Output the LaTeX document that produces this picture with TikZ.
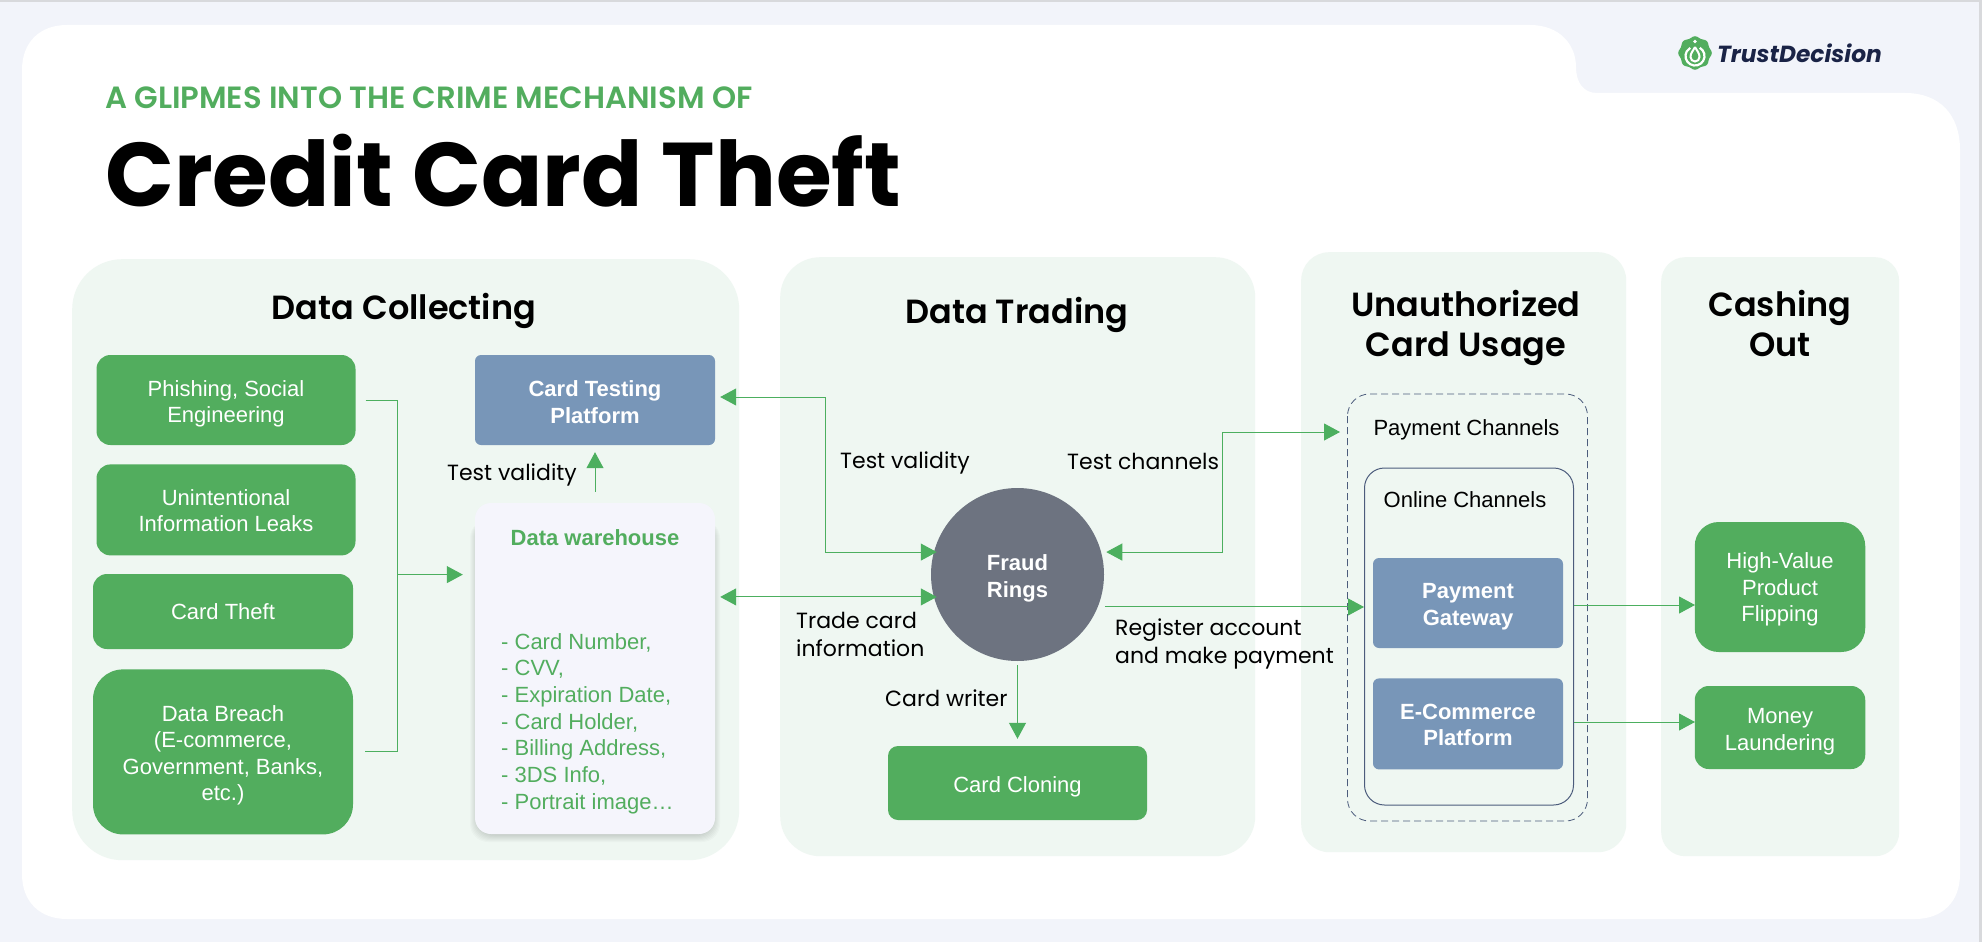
\documentclass[tikz,border=0pt]{standalone}
\usepackage{xcolor}
\usepackage{fontspec}
\usepackage{tikz}
\usetikzlibrary{shapes,arrows.meta,positioning}
\setmainfont{Liberation Sans}
\newfontfamily\labelfont{Poppins}
\newfontfamily\headfont{Poppins SemiBold}
\newfontfamily\titlefont{Poppins}[UprightFont=*-Bold,ItalicFont=*-Bold Italic]
\newcommand{\lowerline}[1][23pt]{\rule{0pt}{#1}}
\definecolor{pagebg}{HTML}{F2F4FA}
\definecolor{edgegray}{HTML}{D8D9DC}
\definecolor{panelbg}{HTML}{EFF7F2}
\definecolor{tdgreen}{HTML}{52AD5E}
\definecolor{wiregreen}{HTML}{4CAF5F}
\definecolor{tdblue}{HTML}{7896B8}
\definecolor{tdgray}{HTML}{6D7380}
\definecolor{tdnavy}{HTML}{1A2346}
\definecolor{framenavy}{HTML}{4C5C7C}
\definecolor{storebg}{HTML}{F5F5FC}

\begin{document}
\begin{tikzpicture}[
    x=1pt, y=-1pt,
    panel/.style={rectangle, fill=panelbg, anchor=north west},
    heading/.style={font=\headfont\fontsize{33.5}{40}\selectfont, align=center, text=black},
    greenbox/.style={rectangle, fill=tdgreen, text=white, align=center, inner sep=0pt, font=\fontsize{22}{26.5}\selectfont},
    bluebox/.style={rectangle, fill=tdblue, text=white, align=center, inner sep=0pt, rounded corners=6pt, font=\bfseries\fontsize{22}{26.5}\selectfont},
    flowlabel/.style={font=\labelfont\fontsize{22}{28}\selectfont, align=left, text=black, inner sep=0pt},
    channellabel/.style={font=\fontsize{22}{26}\selectfont, text=black, inner sep=0pt},
    wire/.style={draw=wiregreen, line width=1pt},
    arrow/.style={wire, -{Triangle[length=16pt,width=17pt]}},
    bothways/.style={wire, {Triangle[length=16pt,width=17pt]}-{Triangle[length=16pt,width=17pt]}}
]
    \useasboundingbox (0,0) rectangle (1982,942);
    % page and white sheet
    \fill[pagebg] (0,0) rectangle (1982,942);
    \fill[edgegray] (0,0) rectangle (1982,2);
    \fill[edgegray] (1979,0) rectangle (1982,942);
    \fill[white] (67,25) -- (1530,25) .. controls (1560,25) and (1576,45) .. (1576,67)
        .. controls (1576,82) and (1583,93) .. (1597,93) -- (1905,93)
        .. controls (1940,93) and (1960,115) .. (1960,150) -- (1960,874)
        .. controls (1960,902) and (1942,919) .. (1915,919) -- (67,919)
        .. controls (40,919) and (22,902) .. (22,874) -- (22,70)
        .. controls (22,42) and (40,25) .. (67,25) -- cycle;

    % logo
    \fill[tdgreen] plot[smooth cycle, domain=0:352.5, samples=48]
        ({1695+(16+0.8*cos(8*\x))*cos(\x)},{53+(16+0.8*cos(8*\x))*sin(\x)});
    \draw[white, line width=2.2pt] (1699.75,47.8) arc[start angle=-60, end angle=240, radius=9.5];
    \draw[white, line width=2pt] (1695,47) .. controls (1697,51) and (1699.5,53) .. (1699.5,57)
        arc[start angle=0, end angle=180, radius=4.5] .. controls (1690.5,53) and (1693,51) .. (1695,47);
    \fill[white] (1695,41.5) circle (1.8);
    \node[font=\titlefont\itshape\fontsize{23.3}{28}\selectfont, text=tdnavy, inner sep=0pt, anchor=west] (brand) at (1717,53) {TrustDecision};

    % title
    \node[font=\headfont\fontsize{30.7}{36}\selectfont, text=tdgreen, inner sep=0pt, anchor=west] (kicker) at (105,98) {A GLIPMES INTO THE CRIME MECHANISM OF};
    \node[font=\titlefont\fontsize{90.4}{100}\selectfont, text=black, inner sep=0pt, anchor=west] (title) at (105,171) {Credit Card Theft};

    % panels
    \node[panel, rounded corners=50pt, minimum width=667pt, minimum height=601pt] (collect) at (72,259) {};
    \node[panel, rounded corners=40pt, minimum width=475pt, minimum height=599pt] (trade) at (780,257) {};
    \node[panel, rounded corners=28pt, minimum width=325pt, minimum height=600pt] (usage) at (1301,252) {};
    \node[panel, rounded corners=24pt, minimum width=238pt, minimum height=599pt] (cash) at (1661,257) {};

    \node[heading] (collecthead) at (404,311) {Data Collecting};
    \node[heading] (tradehead) at (1017,315) {Data Trading};
    \node[heading] (usagehead) at (1466,328) {Unauthorized\\Card Usage};
    \node[heading] (cashhead) at (1780,323) {Cashing\\Out};

    % data collecting
    \node[greenbox, rounded corners=14pt, minimum width=259pt, minimum height=90pt] (phish) at (226,400) {\lowerline[24pt]Phishing, Social\\Engineering};
    \node[greenbox, rounded corners=14pt, minimum width=259pt, minimum height=91pt, below=19pt of phish] (leaks) {\lowerline[17pt]Unintentional\\Information Leaks};
    \node[greenbox, rounded corners=14pt, minimum width=260pt, minimum height=75pt] (theft) at (223,611.5) {Card Theft};
    \node[greenbox, rounded corners=30pt, minimum width=260pt, minimum height=165pt, below=20pt of theft] (breach) {\lowerline Data Breach\\(E-commerce,\\Government, Banks,\\etc.)};
    \node[bluebox, minimum width=240pt, minimum height=90pt] (testing) at (595,400) {\lowerline[20pt]Card Testing\\Platform};
    \foreach \g in {1,...,8}
        \fill[black, opacity=0.02, rounded corners=18pt] (478-\g,520) rectangle (712+\g,834+\g);
    \node[rectangle, fill=storebg, rounded corners=16pt, minimum width=240pt, minimum height=331pt] (warehouse) at (595,668.5) {};
    \node[font=\bfseries\fontsize{22}{26}\selectfont, text=tdgreen, inner sep=0pt] (storehead) at (595,538) {Data warehouse};
    \node[font=\fontsize{22}{26.7}\selectfont, text=tdgreen, align=left, inner sep=0pt, anchor=north west] (storelist) at (501,633) {- Card Number,\\- CVV,\\- Expiration Date,\\- Card Holder,\\- Billing Address,\\- 3DS Info,\\- Portrait image…};
    \node[flowlabel, anchor=west] (validlabel) at (447,475) {Test validity};

    % data trading
    \node[circle, fill=tdgray, text=white, minimum size=173pt, inner sep=0pt, align=center, font=\bfseries\fontsize{22}{26.5}\selectfont] (rings) at (1017.5,574.5) {\lowerline[24pt]Fraud\\Rings};
    \node[greenbox, rounded corners=10pt, minimum width=259pt, minimum height=74pt] (cloning) at (1017.5,783) {\lowerline[24pt]Card Cloning};
    \node[flowlabel, anchor=west] (testlabel) at (840,463) {Test validity};
    \node[flowlabel, anchor=west] (channellbl) at (1067,461) {Test channels};
    \node[flowlabel, anchor=north west] (tradelabel) at (796,612) {Trade card\\information};
    \node[flowlabel, anchor=west] (writerlabel) at (885,698) {Card writer};
    \node[flowlabel, anchor=north west] (registerlabel) at (1115,619) {Register account\\and make payment};

    % card usage
    \draw[framenavy, dash pattern=on 7pt off 4pt, line width=0.8pt, rounded corners=22pt] (1347.5,394) rectangle (1587.5,821);
    \node[rectangle, draw=framenavy, line width=1pt, rounded corners=20pt, minimum width=209pt, minimum height=337pt] (online) at (1469,636.5) {};
    \node[channellabel] (paylabel) at (1466.5,430) {Payment Channels};
    \node[channellabel] (onlinelabel) at (1465,500) {Online Channels};
    \node[bluebox, minimum width=190pt, minimum height=90pt] (payment) at (1468,603) {\lowerline Payment\\Gateway};
    \node[bluebox, minimum width=190pt, minimum height=91pt, below=30pt of payment] (ecommerce) {\lowerline[17pt]E-Commerce\\Platform};

    % cashing out
    \node[greenbox, rounded corners=24pt, minimum width=170.5pt, minimum height=130pt] (flipping) at (1780,587) {\lowerline[21pt]High-Value\\Product\\Flipping};
    \node[greenbox, rounded corners=14pt, minimum width=170.5pt, minimum height=83pt] (laundering) at (1780,727.5) {\lowerline[24pt]Money\\Laundering};

    \coordinate (merge) at (397.5,574.6);
    \coordinate (channelturn) at (1222.5,432);
    \coordinate (flipin) at (1695,605);
    \coordinate (launderin) at (1695,722);

    \draw[wire, shorten <=10pt, shorten >=12pt] (phish.east) -| (merge) |- (breach.east);
    \draw[arrow, shorten >=12pt] (merge) -- (merge -| warehouse.west);
    \draw[arrow, shorten <=11pt, shorten >=7pt] (warehouse.north) -- (testing.south);
    \draw[bothways, shorten <=5pt, shorten >=-3pt] ([yshift=3pt]testing.east) -- ++(110,0) |- (rings.165);
    \draw[bothways, shorten <=5pt, shorten >=-3pt] (warehouse.east |- rings.195) -- (rings.195);
    \draw[bothways, shorten <=5pt, shorten >=24pt] (rings.15) -| (channelturn) -- (channelturn -| online.west);
    \draw[arrow, shorten <=7pt] (rings.338) -- (rings.338 -| online.west);
    \draw[arrow, shorten <=4pt, shorten >=7pt] (rings.south) -- (cloning.north);
    \draw[arrow] (flipin -| online.east) -- (flipin);
    \draw[arrow] (launderin -| online.east) -- (launderin);
\end{tikzpicture}
\end{document}
